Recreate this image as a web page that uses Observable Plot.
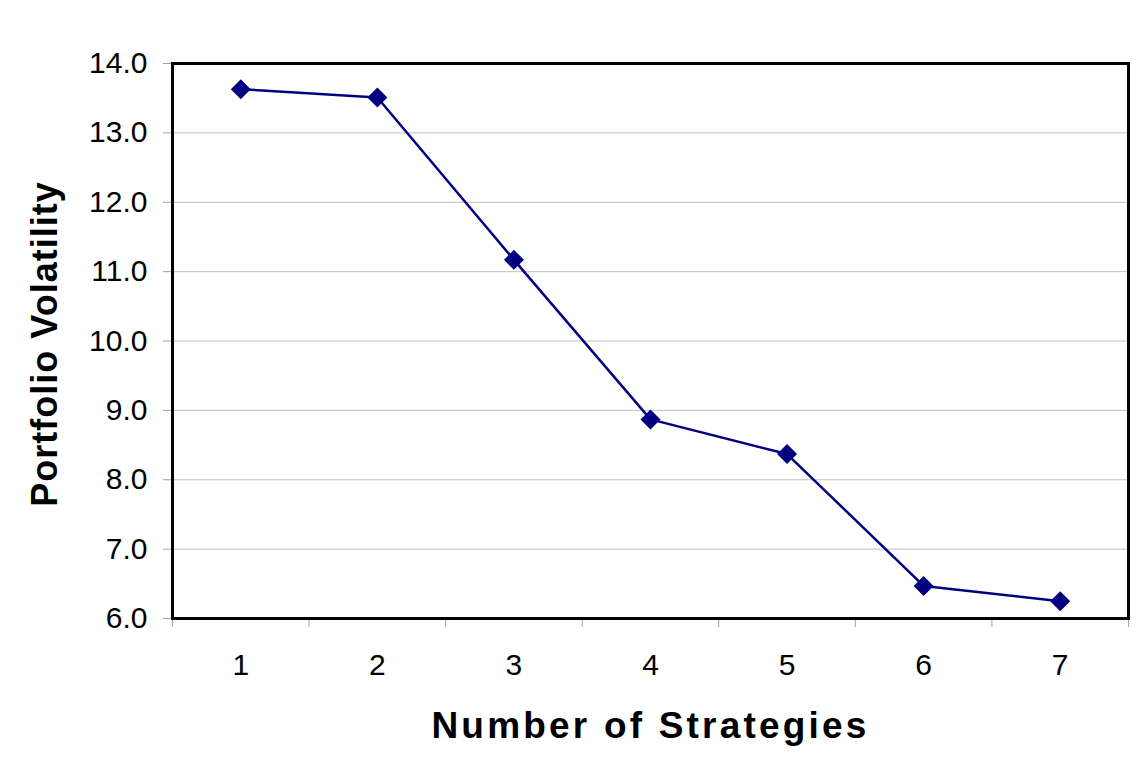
<!DOCTYPE html>
<html>
<head>
<meta charset="utf-8">
<script src="https://cdn.jsdelivr.net/npm/d3@7"></script>
<script src="https://cdn.jsdelivr.net/npm/@observablehq/plot@0.6"></script>
<style>
  html, body { margin: 0; padding: 0; background: #fff; }
  #chart svg { display: block; }
</style>
</head>
<body>
<div id="chart"></div>
<script>
const strategies = [1, 2, 3, 4, 5, 6, 7];
const volatility = [13.63, 13.51, 11.17, 8.87, 8.37, 6.47, 6.25];
const yTicks = [6, 7, 8, 9, 10, 11, 12, 13, 14];
const xBoundaries = [0.5, 1.5, 2.5, 3.5, 4.5, 5.5, 6.5, 7.5];
const xLabel = "Number of Strategies";
const yLabel = "Portfolio Volatility";

const data = strategies.map((s, i) => ({ s, v: volatility[i] }));

const chart = Plot.plot({
  width: 1137,
  height: 768,
  marginLeft: 172,
  marginRight: 9,
  marginTop: 63,
  marginBottom: 150,
  style: { fontFamily: "'Liberation Sans', Arial, sans-serif", fontSize: "30px", background: "#fff", color: "#000" },
  x: { domain: [0.5, 7.5] },
  y: { domain: [6, 14] },
  marks: [
    Plot.gridY(yTicks, { stroke: "#c0c0c0", strokeOpacity: 1, strokeWidth: 1 }),
    Plot.axisY(yTicks, { tickFormat: d => d.toFixed(1), tickSize: 9, tickPadding: 16, stroke: "#a0a0a0", fill: "#000", label: null, fontSize: 30 }),
    Plot.axisX(xBoundaries, { tickFormat: () => "", tickSize: 9, stroke: "#a0a0a0", label: null }),
    Plot.axisX(strategies, { tickFormat: d => String(d), tickSize: 0, tickPadding: 35, fill: "#000", label: null, fontSize: 30 }),
    Plot.frame({ stroke: "#000", strokeWidth: 3 }),
    Plot.line(data, { x: "s", y: "v", stroke: "#000080", strokeWidth: 2.5 }),
    Plot.dot(data, { x: "s", y: "v", symbol: "diamond2", r: 9, fill: "#000080", stroke: "none" }),
    Plot.text([yLabel], { frameAnchor: "left", textAnchor: "middle", rotate: -90, dx: -127, dy: 3, fontSize: 36, fontWeight: "bold", fill: "#000", className: "ylab" }),
    Plot.text([xLabel], { frameAnchor: "bottom", textAnchor: "middle", dy: 119, fontSize: 37, fontWeight: "bold", fill: "#000", className: "xlab" })
  ]
});

document.getElementById("chart").appendChild(chart);
d3.select(chart).selectAll(".ylab text").style("letter-spacing", "1px");
d3.select(chart).selectAll(".xlab text").style("letter-spacing", "3.2px");
</script>
</body>
</html>
